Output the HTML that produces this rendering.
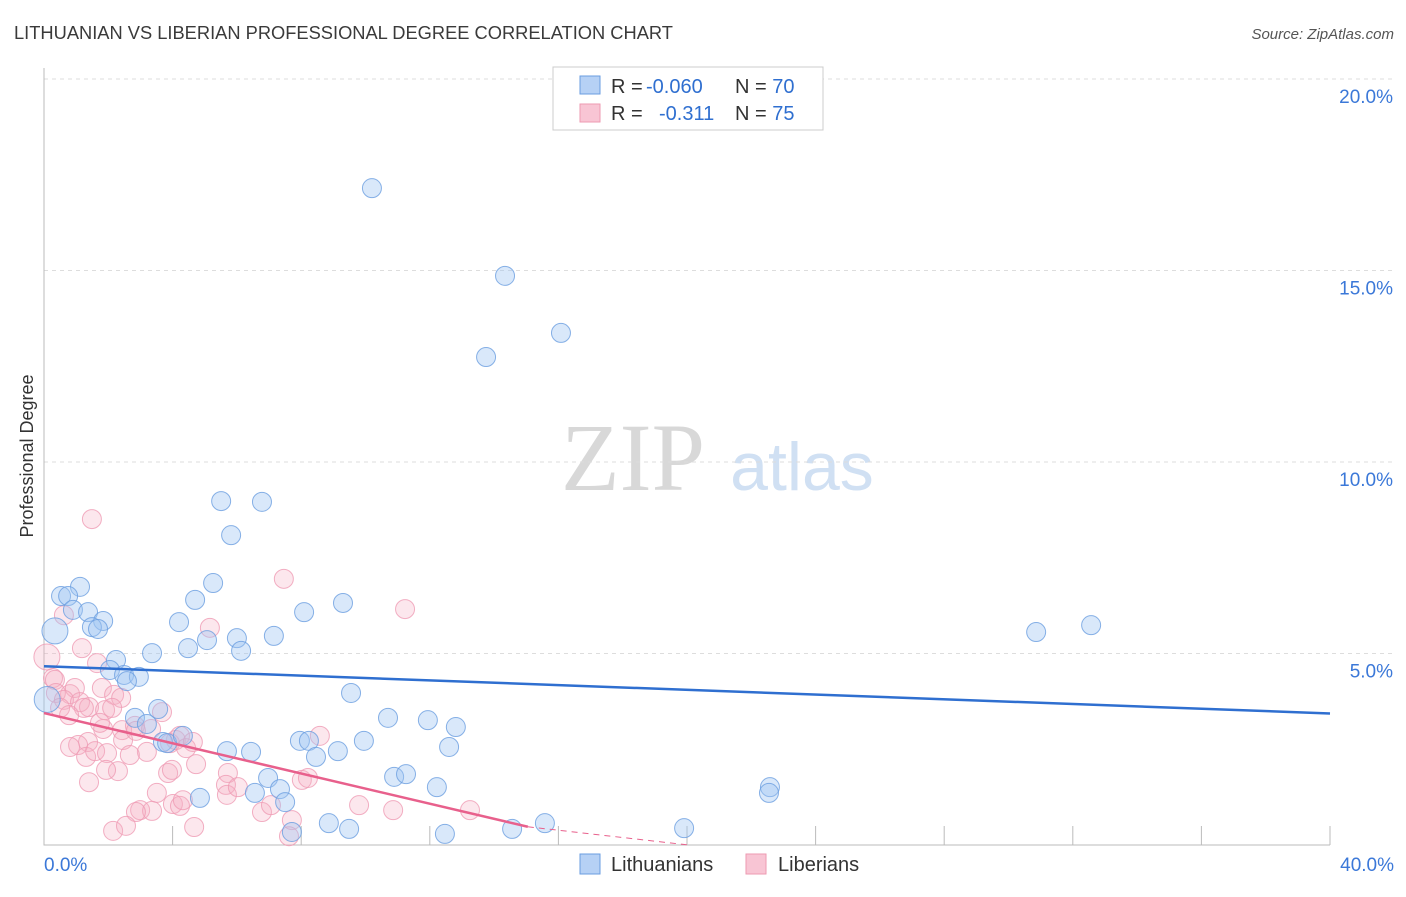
<!DOCTYPE html>
<html><head><meta charset="utf-8"><style>
body{margin:0;background:#fff;font-family:"Liberation Sans",sans-serif;}
</style></head><body>
<svg id="c" width="1406" height="892" xmlns="http://www.w3.org/2000/svg" style="font-family:'Liberation Sans',sans-serif">
<text x="14" y="39" font-size="18.3" fill="#3a3a3a">LITHUANIAN VS LIBERIAN PROFESSIONAL DEGREE CORRELATION CHART</text>
<text x="1394" y="39" font-size="15" fill="#555" text-anchor="end" font-style="italic">Source: ZipAtlas.com</text>
<text x="33" y="456" font-size="18" fill="#333" text-anchor="middle" transform="rotate(-90 33 456)">Professional Degree</text>
<g>
<text x="633" y="490" font-size="96" fill="#d8d8d8" font-family="'Liberation Serif',serif" text-anchor="middle">ZIP</text>
<text x="802" y="490" font-size="68" fill="#d0e0f3" text-anchor="middle">atlas</text>
</g>
<g id="grid"></g>
<g id="axes"></g>
<g id="pts"></g>
<g id="trend"></g>
<g>
<rect x="553" y="67" width="270" height="63" fill="#fff" stroke="#ccc"/>
<rect x="580" y="76" width="20" height="18" fill="#b6d1f5" stroke="#6a9de0"/>
<rect x="580" y="104" width="20" height="18" fill="#f8c5d4" stroke="#ee9ab2"/>
<text x="611" y="93" font-size="20" fill="#333">R = <tspan fill="#2f6fd0" x="646">-0.060</tspan></text>
<text x="735" y="93" font-size="20" fill="#333">N = <tspan fill="#2f6fd0">70</tspan></text>
<text x="611" y="120" font-size="20" fill="#333">R = <tspan fill="#2f6fd0" x="659">-0.311</tspan></text>
<text x="735" y="120" font-size="20" fill="#333">N = <tspan fill="#2f6fd0">75</tspan></text>
</g>
<g>
<rect x="580" y="854" width="20" height="20" fill="#b6d1f5" stroke="#6a9de0"/>
<text x="611" y="871" font-size="20" fill="#333">Lithuanians</text>
<rect x="746" y="854" width="20" height="20" fill="#f8c5d4" stroke="#ee9ab2"/>
<text x="778" y="871" font-size="20" fill="#333">Liberians</text>
</g>
</svg>
<script>
const blueX=[10.2,14.34,16.08,13.75,5.51,6.78,5.82,5.26,1.12,0.53,0.75,4.7,0.9,1.37,8.09,9.3,4.2,1.84,1.49,1.68,0.34,6.0,7.15,5.07,4.48,6.13,3.36,30.86,32.57,2.24,2.05,2.49,2.95,2.58,9.55,10.7,11.94,12.81,2.83,3.2,3.55,3.7,3.83,4.32,7.96,8.24,5.69,6.44,9.14,9.95,12.6,8.46,6.97,7.34,10.89,11.26,12.22,22.58,22.55,4.85,6.56,7.5,8.86,9.49,7.71,12.47,14.56,15.58,19.91,0.1];
const blueY=[17.15,14.86,13.37,12.74,8.98,8.96,8.09,6.84,6.74,6.5,6.5,6.4,6.14,6.08,6.08,6.32,5.82,5.85,5.69,5.64,5.59,5.4,5.46,5.35,5.14,5.07,5.01,5.56,5.74,4.83,4.57,4.44,4.39,4.28,3.97,3.32,3.26,3.08,3.32,3.16,3.55,2.69,2.66,2.85,2.72,2.72,2.45,2.43,2.45,2.72,2.56,2.3,1.75,1.46,1.78,1.85,1.51,1.51,1.36,1.23,1.36,1.12,0.57,0.42,0.34,0.29,0.42,0.57,0.44,3.8];
const pinkX=[1.49,7.46,11.23,5.16,1.18,0.62,1.65,0.09,0.28,0.34,0.81,0.37,0.96,0.62,1.8,2.18,2.4,1.12,1.4,1.9,2.12,1.24,0.5,0.78,2.43,1.84,3.67,1.74,2.83,1.37,1.06,0.81,1.31,1.59,1.96,2.46,2.86,3.33,3.2,3.92,4.1,4.23,4.42,4.63,2.67,1.4,2.3,1.93,3.86,3.98,4.73,3.51,4.01,4.23,4.32,2.99,3.36,5.72,5.66,5.69,8.02,8.21,8.58,6.03,6.78,7.06,7.71,9.8,10.86,13.25,2.86,2.15,2.55,4.67,7.62];
const pinkY=[8.51,6.95,6.16,5.67,5.14,6.0,4.75,4.91,4.36,4.31,3.94,3.97,4.1,3.79,4.1,3.92,3.84,3.73,3.6,3.52,3.58,3.58,3.58,3.39,3.0,3.03,3.47,3.19,3.11,2.69,2.61,2.56,2.3,2.45,2.4,2.74,2.98,3.03,2.43,2.66,2.74,2.85,2.53,2.69,2.35,1.64,1.93,1.96,1.88,1.96,2.11,1.36,1.07,1.02,1.17,0.91,0.89,1.88,1.57,1.31,1.7,1.75,2.85,1.51,0.86,1.04,0.65,1.04,0.91,0.91,0.86,0.37,0.5,0.47,0.23];
const blueLarge=[20,69];
const pinkLarge=[7];
const yTicks=[5,10,15,20];
const yTickLabels=["5.0%","10.0%","15.0%","20.0%"];
const xTickLabels=["0.0%","40.0%"];
const NS="http://www.w3.org/2000/svg";
const sx=v=>44+v/40*1286, sy=v=>845-v*38.3;
function mk(t,a,p){const e=document.createElementNS(NS,t);for(const k in a)e.setAttribute(k,a[k]);p.appendChild(e);return e;}
const grid=document.getElementById('grid'),axes=document.getElementById('axes');
yTicks.forEach((t,i)=>{
 const l=mk('line',{x1:44,x2:1394,y1:sy(t),y2:sy(t),stroke:'#ddd','stroke-dasharray':'4 4'},grid);
 
 
 const tx=mk('text',{x:1393,y:sy(t)+24,'font-size':19,fill:'#3b78d8','text-anchor':'end'},axes);
 tx.textContent=yTickLabels[i];
 
 
});
const ax=mk('path',{d:'M44 68V845H1330',stroke:'#bbb',fill:'none'},axes);


for(let i=1;i<=10;i++){const tk=mk('line',{x1:sx(i*4),x2:sx(i*4),y1:826,y2:845,stroke:'#bbb'},axes);
 
 }
[[0,'start',44],[1,'end',1394]].forEach(([i,a,x])=>{const t=mk('text',{x:x,y:871,'font-size':19,fill:'#3b78d8','text-anchor':a},axes);t.textContent=xTickLabels[i];
 
 });
const pts=document.getElementById('pts');
function dots(X,Y,L,fill,stroke,name){X.forEach((x,i)=>{const r=L.includes(i)?13:9.5;
 const c=mk('circle',{cx:sx(x),cy:sy(Y[i]),r:r,fill:fill,stroke:stroke,'stroke-width':1,'stroke-opacity':0.8},pts);
 
 });}
dots(pinkX,pinkY,pinkLarge,'rgba(246,175,196,0.3)','#ef9bb4','point-liberian');
dots(blueX,blueY,blueLarge,'rgba(160,197,242,0.4)','#6a9de0','point-lithuanian');
function reg(X,Y){const n=X.length;let mx=0,my=0;X.forEach((x,i)=>{mx+=x;my+=Y[i];});mx/=n;my/=n;let sxy=0,sxx=0;X.forEach((x,i)=>{sxy+=(x-mx)*(Y[i]-my);sxx+=(x-mx)**2;});const b=sxy/sxx;return [my-b*mx,b];}
const tr=document.getElementById('trend');
const [ba,bb]=reg(blueX,blueY);
const bl=mk('line',{x1:sx(0),y1:sy(ba),x2:sx(40),y2:sy(ba+bb*40),stroke:'#2f6fd0','stroke-width':2.5},tr);


const [pa,pb]=reg(pinkX,pinkY);
const xe=Math.max(...pinkX)+1.8, xz=Math.min(40,xe+5);
const pl=mk('line',{x1:sx(0),y1:sy(pa),x2:sx(xe),y2:sy(pa+pb*xe),stroke:'#e8608c','stroke-width':2.5},tr);


const pd=mk('line',{x1:sx(xe),y1:sy(pa+pb*xe),x2:sx(xz),y2:Math.min(845,sy(pa+pb*xz)),stroke:'#e8608c','stroke-width':1,'stroke-dasharray':'6 5'},tr);


</script>
</body></html>
